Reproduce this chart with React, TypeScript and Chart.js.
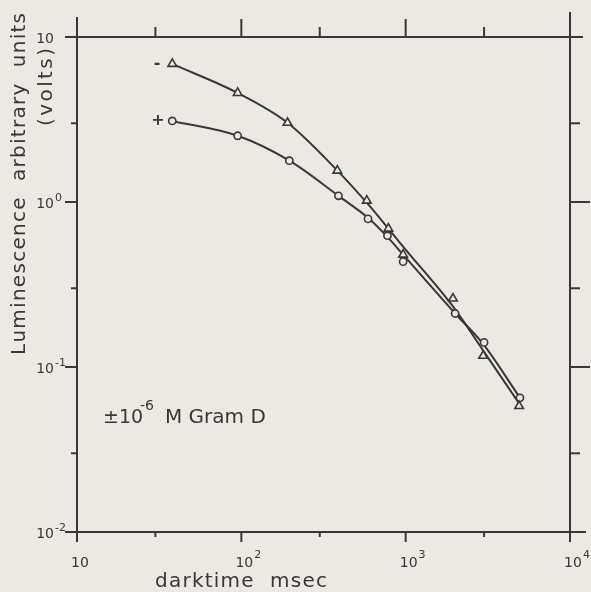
import React, { useEffect, useRef } from "react";
import { Chart, registerables } from "chart.js";
Chart.register(...registerables);

// Measured points (darktime in msec, luminescence in volts)
const darktimeMinus = [38, 95, 191, 384, 580, 785, 965, 1940, 2960, 4900];
const lumMinus = [6.87, 4.58, 3.02, 1.55, 1.02, 0.69, 0.48, 0.26, 0.117, 0.058];
const darktimePlus = [38, 95, 196, 390, 590, 775, 965, 2000, 3000, 4960];
const lumPlus = [3.1, 2.52, 1.78, 1.09, 0.79, 0.625, 0.435, 0.211, 0.141, 0.065];

// Hand-drawn fitted curves
const curveMinusX = [38, 95, 191, 384, 601, 785, 953, 1919, 2958, 5035];
const curveMinusY = [6.87, 4.58, 3.02, 1.55, 0.95, 0.69, 0.544, 0.236, 0.126, 0.0578];
const curvePlusX = [38, 95, 196, 390, 601, 762, 953, 2000, 2958, 4894];
const curvePlusY = [3.1, 2.52, 1.78, 1.09, 0.79, 0.625, 0.486, 0.211, 0.138, 0.0664];

// Axis ticks
const xMajorTicks = [10, 100, 1000, 10000];
const xMinorTicks = [30, 300, 3000];
const xTickBase = ["10", "10", "10", "10"];
const xTickExp = ["", "2", "3", "4"];
const yMajorTicks = [10, 1, 0.1, 0.01];
const yMinorTicks = [3, 0.3, 0.03];
const yTickBase = ["10", "10", "10", "10"];
const yTickExp = ["", "0", "-1", "-2"];

const xTitle = "darktime  msec";
const yTitle1 = "Luminescence  arbitrary  units";
const yTitle2 = "(volts)";
const seriesLabelMinus = "-";
const seriesLabelPlus = "+";

const BG = "#ebe9e3";
const INK = "#3a3836";
const FONT = "'DejaVu Sans', sans-serif";

function drawSpaced(ctx: CanvasRenderingContext2D, text: string, cx: number, cy: number, target: number) {
  const chars = Array.from(text);
  const widths = chars.map((c) => ctx.measureText(c).width);
  const total = widths.reduce((a, b) => a + b, 0);
  const extra = chars.length > 1 ? (target - total) / (chars.length - 1) : 0;
  let x = cx - target / 2;
  ctx.textAlign = "left";
  ctx.textBaseline = "middle";
  chars.forEach((c, i) => {
    ctx.fillText(c, x, cy);
    x += widths[i] + extra;
  });
}

const decorPlugin = {
  id: "decor",
  beforeDraw(chart: any) {
    const ctx = chart.ctx as CanvasRenderingContext2D;
    ctx.save();
    ctx.fillStyle = BG;
    ctx.fillRect(0, 0, chart.width, chart.height);
    ctx.restore();
  },
  beforeDatasetsDraw(chart: any) {
    const ctx = chart.ctx as CanvasRenderingContext2D;
    const xs = chart.scales.x;
    const ys = chart.scales.y;
    const { left: L, right: R, top: T, bottom: B } = chart.chartArea;
    ctx.save();
    ctx.strokeStyle = INK;
    ctx.lineWidth = 2;
    ctx.lineCap = "butt";
    const line = (x1: number, y1: number, x2: number, y2: number) => {
      ctx.beginPath();
      ctx.moveTo(x1, y1);
      ctx.lineTo(x2, y2);
      ctx.stroke();
    };
    line(L, 17, L, B);
    line(L - 12, T, R + 13, T);
    line(R, 12, R, B + 9);
    line(L - 10, B, R + 16, B);
    yMajorTicks.forEach((v) => {
      const y = ys.getPixelForValue(v);
      line(L - 12, y, L, y);
    });
    yMinorTicks.forEach((v) => {
      const y = ys.getPixelForValue(v);
      line(L - 6, y, L, y);
    });
    yMajorTicks.slice(1, 3).forEach((v) => {
      const y = ys.getPixelForValue(v);
      line(R, y, R + 20, y);
    });
    yMinorTicks.forEach((v) => {
      const y = ys.getPixelForValue(v);
      line(R, y, R + 10, y);
    });
    xMajorTicks.slice(1, 3).forEach((v) => {
      const x = xs.getPixelForValue(v);
      line(x, T - 18, x, T);
    });
    xMinorTicks.forEach((v) => {
      const x = xs.getPixelForValue(v);
      line(x, T - 10, x, T);
    });
    xMajorTicks.forEach((v) => {
      const x = xs.getPixelForValue(v);
      line(x, B, x, B + 10);
    });
    xMinorTicks.forEach((v) => {
      const x = xs.getPixelForValue(v);
      line(x, B, x, B + 5);
    });
    ctx.restore();
  },
  afterDraw(chart: any) {
    const ctx = chart.ctx as CanvasRenderingContext2D;
    const xs = chart.scales.x;
    const ys = chart.scales.y;
    ctx.save();
    ctx.fillStyle = INK;
    yMajorTicks.forEach((v, i) => {
      const y = ys.getPixelForValue(v) + 2;
      ctx.font = `14px ${FONT}`;
      ctx.textAlign = "right";
      ctx.textBaseline = "middle";
      ctx.fillText(yTickBase[i], 54, y);
      if (yTickExp[i]) {
        ctx.font = `11px ${FONT}`;
        ctx.textAlign = "left";
        ctx.fillText(yTickExp[i], 55, y - 6);
      }
    });
    xMajorTicks.forEach((v, i) => {
      const x = xs.getPixelForValue(v) + 3;
      ctx.font = `14px ${FONT}`;
      ctx.textAlign = "center";
      ctx.textBaseline = "middle";
      ctx.fillText(xTickBase[i], x, 563);
      if (xTickExp[i]) {
        const w = ctx.measureText(xTickBase[i]).width;
        ctx.font = `11px ${FONT}`;
        ctx.textAlign = "left";
        ctx.fillText(xTickExp[i], x + w / 2 + 1, 555);
      }
    });
    ctx.font = `20px ${FONT}`;
    drawSpaced(ctx, xTitle, 241, 582, 172);
    ctx.save();
    ctx.translate(20, 184);
    ctx.rotate(-Math.PI / 2);
    drawSpaced(ctx, yTitle1, 0, 0, 342);
    ctx.restore();
    ctx.save();
    ctx.translate(47, 87);
    ctx.rotate(-Math.PI / 2);
    ctx.font = `20px ${FONT}`;
    drawSpaced(ctx, yTitle2, 0, 0, 78);
    ctx.restore();
    ctx.font = `bold 16px ${FONT}`;
    ctx.textAlign = "center";
    ctx.textBaseline = "middle";
    ctx.fillText(seriesLabelMinus, 157, ys.getPixelForValue(lumMinus[0]));
    ctx.fillText(seriesLabelPlus, 158, ys.getPixelForValue(lumPlus[0]));
    ctx.textAlign = "left";
    ctx.textBaseline = "alphabetic";
    ctx.font = `19px ${FONT}`;
    ctx.fillText("\u00b110", 103, 423);
    ctx.font = `14px ${FONT}`;
    ctx.fillText("-6", 140, 410);
    ctx.font = `20px ${FONT}`;
    ctx.fillText("M Gram D", 165, 423);
    ctx.restore();
  },
};

export default function App() {
  const ref = useRef<HTMLCanvasElement | null>(null);
  useEffect(() => {
    document.body.style.margin = "0";
    document.body.style.background = BG;
    const canvas = ref.current;
    if (!canvas) return;
    const toPts = (xs: number[], ys: number[]) => xs.map((x, i) => ({ x, y: ys[i] }));
    const chart = new Chart(canvas, {
      type: "scatter",
      data: {
        datasets: [
          {
            data: toPts(darktimeMinus, lumMinus),
            pointStyle: "triangle",
            pointRadius: 5,
            pointBackgroundColor: BG,
            pointBorderColor: INK,
            pointBorderWidth: 1.6,
            showLine: false,
            order: 0,
          },
          {
            data: toPts(darktimePlus, lumPlus),
            pointStyle: "circle",
            pointRadius: 3.6,
            pointBackgroundColor: BG,
            pointBorderColor: INK,
            pointBorderWidth: 1.6,
            showLine: false,
            order: 0,
          },
          {
            data: toPts(curveMinusX, curveMinusY),
            showLine: true,
            pointRadius: 0,
            borderColor: INK,
            borderWidth: 2,
            cubicInterpolationMode: "monotone",
            order: 1,
          },
          {
            data: toPts(curvePlusX, curvePlusY),
            showLine: true,
            pointRadius: 0,
            borderColor: INK,
            borderWidth: 2,
            cubicInterpolationMode: "monotone",
            order: 1,
          },
        ],
      },
      options: {
        responsive: false,
        animation: false,
        devicePixelRatio: 1,
        layout: { padding: { left: 77, right: 21, top: 37, bottom: 60 } },
        plugins: { legend: { display: false }, tooltip: { enabled: false } },
        scales: {
          x: { type: "logarithmic", min: 10, max: 10000, display: false },
          y: { type: "logarithmic", min: 0.01, max: 10, display: false },
        },
      },
      plugins: [decorPlugin],
    } as any);
    return () => chart.destroy();
  }, []);
  return (
    <div style={{ width: 591, height: 592 }}>
      <canvas ref={ref} width={591} height={592} />
    </div>
  );
}
